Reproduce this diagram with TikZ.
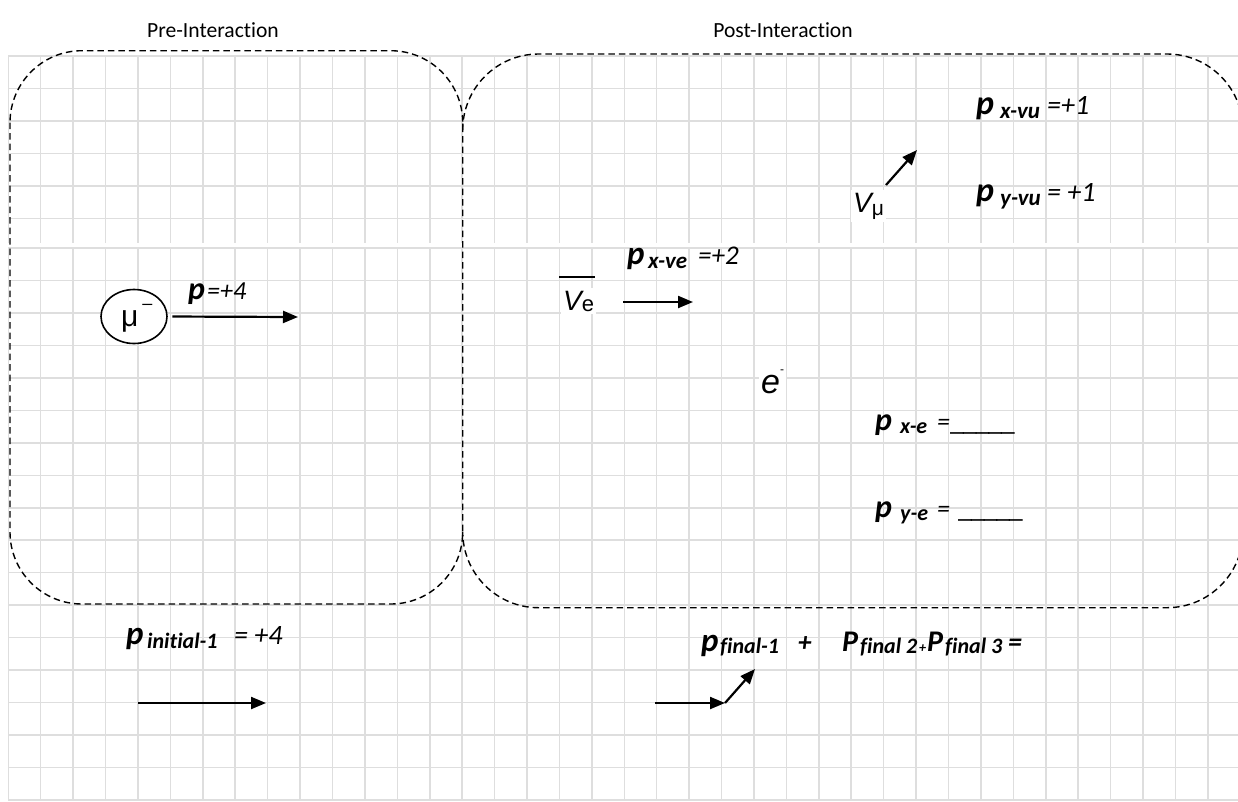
\documentclass[tikz,border=0pt]{standalone}
\usepackage{fontspec}
\setmainfont[Ligatures=NoCommon]{Carlito}
\newfontfamily\arialfont{Liberation Sans}
\usetikzlibrary{arrows.meta,shapes.geometric}

\definecolor{gridgray}{RGB}{222,222,222}

% font size helper and the pieces of the momentum labels
\newcommand\fsz[1]{\fontsize{#1}{#1}\selectfont}
\newcommand\slot[2]{\makebox[#1pt][l]{#2}}
\newcommand\pmain[2]{{\fsz{#1}\bfseries\itshape #2}}
\newcommand\psub[3]{\raisebox{-#2pt}{\fsz{#1}\bfseries\itshape #3}}
\newcommand\prest[2]{{\fsz{#1}\itshape #2}}
\newcommand\blankline{{\fsz{28}\_\kern-1.3pt\_\kern-1.3pt\_\kern-1.3pt\_\kern-1.3pt\_}}

\begin{document}
\begin{tikzpicture}[x=1pt,y=-1pt,
  gridline/.style={draw=gridgray,line width=1.5pt},
  dashbox/.style={draw=black,line width=1.4pt,dash pattern=on 6.5pt off 4pt},
  vec/.style={line width=2.2pt,-{Triangle[length=15pt,width=12pt]}},
  lbl/.style={inner sep=0pt,anchor=base west},
  wbox/.style={fill=white,inner xsep=2pt,inner ysep=3pt,anchor=base west},
]
\useasboundingbox (0,0) rectangle (1238,801);
\fill[white] (0,0) rectangle (1238,801);

\begin{scope}
\clip (0,0) rectangle (1238,801);
% squared paper: an upper strip and a lower sheet
\foreach \k in {0,...,37} {
  \draw[gridline] ({8.3+\k*32.42},56) -- ({8.3+\k*32.42},243);
  \draw[gridline] ({8.3+\k*32.42},248) -- ({8.3+\k*32.42},801);
}
\foreach \k in {0,...,5}
  \draw[gridline] (8.3,{56+\k*32.47}) -- (1238,{56+\k*32.47});
\foreach \k in {0,...,17}
  \draw[gridline] (8.3,{248+\k*32.47}) -- (1238,{248+\k*32.47});

% the two interaction frames
\draw[dashbox,rounded corners=72pt] (10,50.7) rectangle (462.7,604);
\draw[dashbox,rounded corners=76pt] (462.7,130) |- (1243,54) |- (462.7,607.7) -- (462.7,531.7);
\end{scope}

% headings
\node[lbl,anchor=base] (pre) at (213,37) {\fsz{21.6}Pre-Interaction};
\node[lbl,anchor=base] (post) at (783,37) {\fsz{21.6}Post-Interaction};

% incoming muon
\node[ellipse,draw,line width=1.6pt,fill=white,minimum width=66pt,minimum height=54pt,inner sep=0pt] (mu) at (134,316.5) {};
\node[lbl] (mutxt) at (121,326) {\arialfont\fsz{30}μ\hspace{4pt}\raisebox{17pt}{\fsz{18}–}};
\coordinate (mutip) at (298,317);
\draw[vec,shorten <=4.5pt] (mu.east) -- (mutip);
\node[lbl] (lp4) at (188,299) {\slot{19}{\pmain{32}{p}}\prest{26}{=+4}};

% electron antineutrino
\node[wbox] (ve) at (561,310) {{\arialfont\fsz{28}\itshape V}\raisebox{-1pt}{\arialfont\fsz{22}e}};
\draw[line width=1.4pt] (559,277) -- (595,277);
\coordinate (vetail) at (623,302);
\coordinate (vetip) at (693,302);
\draw[vec] (vetail) -- (vetip);
\node[lbl] (lvex) at (627,264) {\slot{21}{\pmain{33}{p}}\slot{50}{\psub{23}{4}{x-ve}}\prest{27}{=+2}};

% muon neutrino
\node[wbox] (vmu) at (851,212) {{\arialfont\fsz{28}\itshape V}\raisebox{-3pt}{\arialfont\fsz{21}μ}};
\coordinate (vmutail) at (886,185);
\coordinate (vmutip) at (917,150);
\draw[vec] (vmutail) -- (vmutip);
\node[lbl] (lvux) at (976,114) {\slot{24}{\pmain{34}{p}}\slot{47}{\psub{23}{4}{x-vu}}\prest{28}{=+1}};
\node[lbl] (lvuy) at (976,201) {\slot{24}{\pmain{34}{p}}\slot{47}{\psub{23}{4}{y-vu}}\prest{28}{= +1}};

% electron
\node[wbox] (el) at (759,393) {{\arialfont\fsz{34}\itshape e}\raisebox{20pt}{\arialfont\fsz{12}-}};
\node[lbl] (lex) at (875,430) {\slot{25}{\pmain{32}{p}}\slot{37}{\psub{22}{3}{x-e}}\slot{13}{\prest{26}{=}}\blankline};
\node[lbl] (ley) at (875,517) {\slot{25}{\pmain{32}{p}}\slot{37}{\psub{22}{3}{y-e}}\slot{21}{\prest{26}{=}}\blankline};

% momentum balance
\node[lbl] (lini) at (126,644) {\slot{21}{\pmain{33}{p}}\slot{87}{\psub{22}{4}{initial-1}}\prest{28}{= +4}};
\coordinate (initail) at (138,703);
\coordinate (initip) at (266,703);
\draw[vec] (initail) -- (initip);

\node[lbl] (lfin) at (701,651) {\slot{19}{\pmain{33}{p}}\slot{78}{\psub{22}{2}{final-1}}\slot{44}{\pmain{27}{+}}\slot{18}{\pmain{30}{P}}\slot{59}{\psub{22}{2}{final 2}}\slot{8}{\psub{14}{1}{+}}\slot{18}{\pmain{30}{P}}\slot{63}{\psub{22}{2}{final 3}}\pmain{28}{=}};
\coordinate (fintail) at (655,703);
\coordinate (finmid) at (725,703);
\coordinate (fintip) at (755,669);
\draw[vec] (fintail) -- (finmid);
\draw[vec] (finmid) -- (fintip);
\end{tikzpicture}
\end{document}
